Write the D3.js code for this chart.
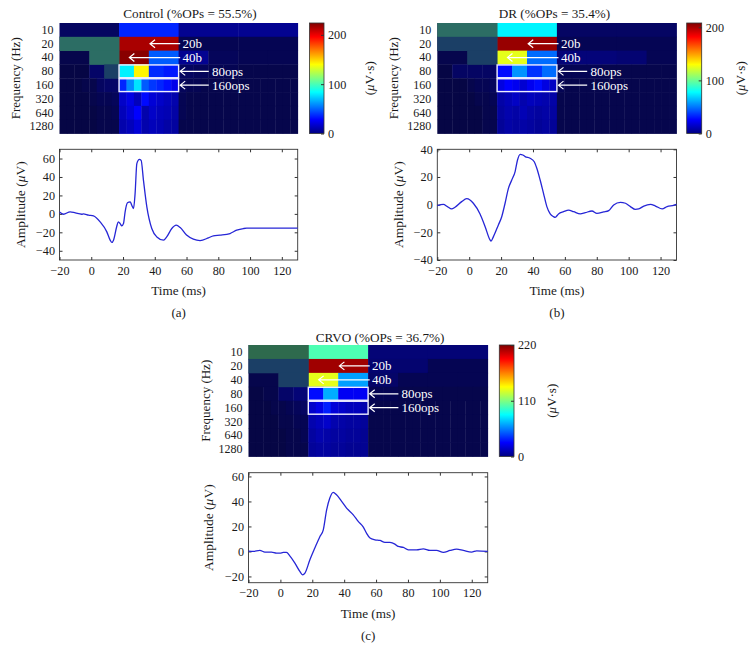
<!DOCTYPE html>
<html><head><meta charset="utf-8">
<script src="https://cdn.jsdelivr.net/npm/d3@7"></script>
<style>
body{margin:0;background:#fff;}
svg{display:block;}
text{font-family:"Liberation Serif","Times New Roman",serif;fill:#1a1a1a;}
</style></head>
<body>
<svg id="chart" width="756" height="664"></svg>
<script>
// ---------- data ----------
const freqLabels = ["10","20","40","80","160","320","640","1280"];
const timeDomain = [-20, 130];
const xTickValues = [-20,0,20,40,60,80,100,120];

// Control
const ctrlTitle = "Control (%OPs = 55.5%)";
const ctrlHeat = [
  [5, 36, 12, 12],
  [3, 215, 3, 3],
  [2, 3, 222, 48, 12, 4, 3, 3],
  [1, 1, 6, 4, 81, 142, 37, 33, 5, 4, 3, 3, 2, 2, 2, 2],
  [1,1,1,2,2,5,6,6, 36,58,78,48,40,36,31,25, 4,3,3,2,2,2,2,2, 2,2,2,2,2,2,2,2],
  [1,1,1,1,2,3,3,4, 20,24,18,30,22,20,18,16, 3,2,2,2,2,2,2,2, 2,2,2,2,2,2,2,2],
  [1,1,1,1,1,2,2,3, 18,22,28,16,20,18,17,15, 3,2,2,2,2,2,2,2, 2,2,2,2,2,2,2,2],
  [1,1,1,1,1,2,2,2, 16,18,22,16,18,17,15,14, 2,2,2,2,2,2,2,2, 2,2,2,2,2,2,2,2]
];
const ctrlMask = [[1,0,1],[2,1,1],[3,3,2]];
const ctrlColorMax = 224;
const ctrlColorTicks = [0,100,200];
const ctrlTime = [-20,-17.5,-13.3,-10,-6,-5,-1.7,1.4,5.6,9.8,11.9,13,14,16,17,18.2,19.2,20.3,21.3,22.8,24.5,25.5,26.6,27.6,28.7,30.3,31.4,32.9,35,38.1,41.3,45.5,47.5,50.7,53.5,56,60,64.3,68.5,73.8,76.9,81.1,87.4,91.6,95.8,97.9,110,130];
const ctrlAmp = [2,-0.4,2.2,1,-0.4,0,-1.4,-2.2,-8.7,-19.5,-28.5,-31,-28.5,-14,-8.7,-10.5,-13,-10.5,2,12,13,9.4,5.8,22,54.5,59,58,36,7.6,-15.9,-25,-28.5,-25,-15.9,-12.3,-14.8,-23,-27.4,-28.9,-26,-23.8,-23.1,-21.3,-17.7,-15.9,-15.5,-15.5,-15.5];
const ctrlAmpDomain = [-50, 70];
const ctrlAmpTicks = [-40,-20,0,20,40,60];

// DR
const drTitle = "DR (%OPs = 35.4%)";
const drHeat = [
  [0, 76, 5, 5],
  [0, 203, 3, 3],
  [2, 0, 125, 48, 8, 8, 7, 3],
  [1, 5, 5, 5, 28, 56, 36, 48, 3, 3, 3, 2, 2, 2, 2, 2],
  [1,1,1,1,2,3,3,4, 22,26,24,20,24,28,22,18, 3,2,2,2,2,2,2,2, 2,2,2,2,2,2,2,2],
  [1,1,1,1,1,2,2,3, 14,16,18,15,17,16,15,14, 2,2,2,2,2,2,2,2, 2,2,2,2,2,2,2,2],
  [1,1,1,1,1,1,2,2, 13,15,14,16,14,13,14,13, 2,2,2,2,2,2,2,2, 2,2,2,2,2,2,2,2],
  [1,1,1,1,1,1,2,2, 12,14,13,14,13,12,13,12, 2,2,2,2,2,2,2,2, 2,2,2,2,2,2,2,2]
];
const drMask = [[0,0,1],[1,0,2],[2,1,2]];
const drColorMax = 208;
const drColorTicks = [0,100,200];
const drTime = [-20,-16.2,-13.7,-11,-8.9,-4.7,-1.6,0.5,2.6,6.8,10,13.1,13.7,15.2,18.3,20.4,22.5,24.6,26.7,28.8,30.3,32,33.6,35.1,38.2,40.8,42.4,44.5,46.6,48.7,50.8,52.9,53.9,56,59.2,62.3,65.5,69.7,72.8,77,80.1,84.3,87.5,90.6,94.8,98,101.1,104.2,106.3,109.5,113.7,116.8,121,124.1,128.3,130];
const drAmp = [-0.7,0.2,-1.4,-3.1,-1.9,2.2,4.3,3.4,1,-6.7,-15.9,-25.5,-26.3,-23.1,-14.7,-8.7,1,11.8,17.8,23.9,32.3,36.4,35.9,34.7,33.5,31,26.3,17.8,8.2,-1.4,-6.7,-8.7,-9.2,-6.7,-5.1,-3.9,-5.1,-6.7,-5.8,-4.6,-6.3,-5.3,-4.3,-0.2,1.7,1,-1.4,-3.4,-3.1,-1,0.2,-1,-3.1,-1.4,-0.5,0.2];
const drAmpDomain = [-40, 40];
const drAmpTicks = [-40,-20,0,20,40];

// CRVO
const crvoTitle = "CRVO (%OPs = 36.7%)";
const crvoHeat = [
  [0, 99, 8, 8],
  [0, 213, 7, 3],
  [2, 0, 132, 62, 6, 3, 3, 3],
  [1, 2, 6, 8, 30, 65, 26, 26, 3, 3, 2, 2, 2, 2, 2, 2],
  [1,1,1,2,2,3,4,5, 20,24,34,22,20,18,18,16, 3,2,2,2,2,2,2,2, 2,2,2,2,2,2,2,2],
  [1,1,1,1,2,2,3,3, 16,18,20,16,15,14,14,13, 2,2,2,2,2,2,2,2, 2,2,2,2,2,2,2,2],
  [1,1,1,1,1,2,2,3, 14,16,15,14,14,13,13,12, 2,2,2,2,2,2,2,2, 2,2,2,2,2,2,2,2],
  [1,1,1,1,1,2,2,2, 13,14,14,13,13,12,12,12, 2,2,2,2,2,2,2,2, 2,2,2,2,2,2,2,2]
];
const crvoMask = [[0,0,3],[1,0,2],[2,1,2]];
const crvoColorMax = 220;
const crvoColorTicks = [0,110,220];
const crvoTime = [-20,-17.1,-12.9,-9.7,-5.6,-2.4,-0.3,1.8,3.8,5.9,9.1,12.2,13.9,15.4,18.5,21.6,24.8,26.9,29,31,33.1,35.2,38.4,41.5,45.7,48.8,52,54,56.2,59.3,62.4,65.6,68.7,71.8,73.9,77.1,80.2,85.4,89.6,93.8,97.9,102.2,106.4,110.5,114.7,119.9,123.1,130];
const crvoAmp = [0.3,0,0.8,-0.5,-0.5,-1.3,-1.3,-0.8,-0.8,-3.5,-9.3,-16,-18.7,-17.3,-6.7,2.7,12,17.3,33.3,42.7,47.2,45.3,40,34.7,29.3,24,19.5,14.7,10.7,9.3,8.8,7.2,7.2,5.9,4,3.2,1.3,1.3,2.1,0.8,0.8,-0.8,0.8,1.9,0.8,-0.5,0.5,0];
const crvoAmpDomain = [-25, 63];
const crvoAmpTicks = [-20,0,20,40,60];

// annotations (time in ms, row index)
const annotations = [
  {label:"20b", row:1, tip:37, tail:56, text:57.5},
  {label:"40b", row:2, tip:24, tail:56, text:57.5},
  {label:"80ops", row:3, tip:56, tail:74, text:76},
  {label:"160ops", row:4, tip:56, tail:74, text:76}
];
const boxRows = [3, 4];
const boxWindow = [17.5, 55];
const maskColors = {1:"#2c6d64", 2:"#1b3f66", 3:"#2e6a4d"};

// ---------- drawing ----------
const svg = d3.select("#chart");

function jetScale(max, low){
  return d3.scaleLinear()
    .domain([0, .125, .375, .625, .875, 1].map(f => f*max))
    .range([low, "#0000ff", "#00ffff", "#ffff00", "#ff0000", "#800000"])
    .clamp(true);
}

function muText(sel, before, after){
  sel.append("tspan").text(before);
  sel.append("tspan").style("font-style","italic").text("\u03bc");
  sel.append("tspan").text(after);
}

function styleAxisText(a, size){
  a.selectAll("text").style("font-family","Liberation Serif").style("font-size", size).attr("fill","#1a1a1a");
}

function drawPanel(p){
  const g = svg.append("g");
  const x = d3.scaleLinear().domain(timeDomain).range([p.hx0, p.hx1]);
  const yb = d3.scaleBand().domain(freqLabels).range([p.hy0, p.hy1]);
  const col = jetScale(p.colorMax, "#06063e");
  const cellX = (k, n) => x(timeDomain[0] + (timeDomain[1]-timeDomain[0])*k/n);

  // heatmap cells
  p.heat.forEach((row, ri) => {
    const n = row.length;
    g.append("g").selectAll("rect").data(row).join("rect")
      .attr("x", (d,k) => cellX(k, n))
      .attr("width", (d,k) => cellX(k+1, n) - cellX(k, n) + 0.4)
      .attr("y", yb(freqLabels[ri]))
      .attr("height", yb.bandwidth() + 0.4)
      .attr("fill", d => col(d));
  });
  // masked (shaded) cells
  g.append("g").selectAll("rect").data(p.mask).join("rect")
    .attr("x", d => cellX(d[1], p.heat[d[0]].length))
    .attr("width", d => cellX(d[1]+1, p.heat[d[0]].length) - cellX(d[1], p.heat[d[0]].length) + 0.4)
    .attr("y", d => yb(freqLabels[d[0]]))
    .attr("height", yb.bandwidth() + 0.4)
    .attr("fill", d => maskColors[d[2]]);

  // white boxes
  g.append("g").selectAll("rect").data(boxRows).join("rect")
    .attr("x", x(boxWindow[0])).attr("width", x(boxWindow[1]) - x(boxWindow[0]))
    .attr("y", d => yb(freqLabels[d]) + 0.5).attr("height", yb.bandwidth() - 1)
    .attr("fill","none").attr("stroke","#eeeeff").attr("stroke-width",1.4);

  // arrows + labels
  const ann = g.append("g");
  annotations.forEach(a => {
    const yy = yb(freqLabels[a.row]) + yb.bandwidth()/2;
    const xt = x(a.tip);
    ann.append("path")
      .attr("d", `M${x(a.tail)},${yy}L${xt},${yy}M${xt+5},${yy-4}L${xt},${yy}L${xt+5},${yy+4}`)
      .attr("fill","none").attr("stroke","#ffffff").attr("stroke-width",1.2);
    ann.append("text").attr("x", x(a.text)).attr("y", yy).attr("dy","0.35em")
      .style("font-size","13px").style("fill","#ffffff").text(a.label);
  });

  // heatmap y axis labels
  const ya = g.append("g").attr("transform", `translate(${p.hx0},0)`)
    .call(d3.axisLeft(yb).tickSize(0).tickPadding(6));
  ya.select(".domain").remove();
  styleAxisText(ya, "12px");

  g.append("text").attr("transform", `translate(${p.freqLabelX},${(p.hy0+p.hy1)/2}) rotate(-90)`)
    .attr("text-anchor","middle").attr("dy","0.35em").style("font-size","13px").text("Frequency (Hz)");

  // title
  g.append("text").attr("x", p.titleX).attr("y", p.titleY).attr("text-anchor","middle")
    .style("font-size","13.2px").text(p.title);

  // colorbar
  const cbScale = d3.scaleLinear().domain([0, p.colorMax]).range([p.hy1, p.hy0]);
  const cbCol = jetScale(p.colorMax, "#000080");
  const gradId = "grad" + p.id;
  const grad = svg.append("defs").append("linearGradient").attr("id", gradId)
    .attr("x1","0").attr("y1","1").attr("x2","0").attr("y2","0");
  d3.range(0, 1.0001, 0.025).forEach(f => {
    grad.append("stop").attr("offset", f).attr("stop-color", cbCol(f*p.colorMax));
  });
  g.append("rect").attr("x", p.cbx).attr("y", p.hy0).attr("width", p.cbw).attr("height", p.hy1 - p.hy0)
    .attr("fill", `url(#${gradId})`).attr("stroke","#333").attr("stroke-width",0.8);
  const cba = g.append("g").attr("transform", `translate(${p.cbx + p.cbw},0)`)
    .call(d3.axisRight(cbScale).tickValues(p.colorTicks).tickSizeInner(-3).tickSizeOuter(0).tickPadding(4));
  cba.select(".domain").remove();
  cba.selectAll("line").attr("stroke","#333");
  styleAxisText(cba, "12.2px");
  const cbl = g.append("text").attr("transform", `translate(${p.cbLabelX},${(p.hy0+p.hy1)/2}) rotate(-90)`)
    .attr("text-anchor","middle").attr("dy","0.35em").style("font-size","13px");
  muText(cbl, "(", "V\u00b7s)");

  // line chart
  const y = d3.scaleLinear().domain(p.ampDomain).range([p.ly1, p.ly0]);
  const lx = d3.scaleLinear().domain(timeDomain).range([p.hx0, p.hx1]);
  const lg = g.append("g");
  const bottom = lg.append("g").attr("transform", `translate(0,${p.ly1})`)
    .call(d3.axisBottom(lx).tickValues(xTickValues).tickSizeInner(-3).tickSizeOuter(0).tickPadding(6));
  const top = lg.append("g").attr("transform", `translate(0,${p.ly0})`)
    .call(d3.axisTop(lx).tickValues(xTickValues).tickSizeInner(-3).tickSizeOuter(0).tickFormat(""));
  const left = lg.append("g").attr("transform", `translate(${p.hx0},0)`)
    .call(d3.axisLeft(y).tickValues(p.ampTicks).tickSizeInner(-3).tickSizeOuter(0).tickPadding(4.5));
  const right = lg.append("g").attr("transform", `translate(${p.hx1},0)`)
    .call(d3.axisRight(y).tickValues(p.ampTicks).tickSizeInner(-3).tickSizeOuter(0).tickFormat(""));
  [bottom, top, left, right].forEach(a => {
    a.select(".domain").remove();
    a.selectAll("line").attr("stroke","#333");
    styleAxisText(a, "12.2px");
  });
  lg.append("rect").attr("x", p.hx0).attr("y", p.ly0).attr("width", p.hx1 - p.hx0).attr("height", p.ly1 - p.ly0)
    .attr("fill","none").attr("stroke","#333").attr("stroke-width",0.9);

  const pts = p.time.map((t,i) => [t, p.amp[i]]);
  lg.append("path").datum(pts)
    .attr("d", d3.line().x(d => lx(d[0])).y(d => y(d[1])).curve(d3.curveMonotoneX))
    .attr("fill","none").attr("stroke","#2626d6").attr("stroke-width",1.3);

  const al = lg.append("text").attr("transform", `translate(${p.ampLabelX},${(p.ly0+p.ly1)/2}) rotate(-90)`)
    .attr("text-anchor","middle").attr("dy","0.35em").style("font-size","13.5px");
  muText(al, "Amplitude (", "V)");

  lg.append("text").attr("x", (p.hx0+p.hx1)/2).attr("y", p.ly1 + 35).attr("text-anchor","middle")
    .style("font-size","13.2px").text("Time (ms)");
  lg.append("text").attr("x", (p.hx0+p.hx1)/2).attr("y", p.ly1 + 57).attr("text-anchor","middle")
    .style("font-size","13px").text(p.panelLabel);
}

drawPanel({id:"a", title:ctrlTitle, heat:ctrlHeat, mask:ctrlMask, colorMax:ctrlColorMax, colorTicks:ctrlColorTicks,
  time:ctrlTime, amp:ctrlAmp, ampDomain:ctrlAmpDomain, ampTicks:ctrlAmpTicks, panelLabel:"(a)",
  hx0:59.5, hx1:297.7, hy0:23, hy1:133.5, ly0:149.3, ly1:260,
  cbx:309.5, cbw:14.5, cbLabelX:369, freqLabelX:15, ampLabelX:20, titleX:190, titleY:18});

drawPanel({id:"b", title:drTitle, heat:drHeat, mask:drMask, colorMax:drColorMax, colorTicks:drColorTicks,
  time:drTime, amp:drAmp, ampDomain:drAmpDomain, ampTicks:drAmpTicks, panelLabel:"(b)",
  hx0:437.3, hx1:676.5, hy0:23, hy1:133.5, ly0:149.3, ly1:260,
  cbx:686.7, cbw:15, cbLabelX:740, freqLabelX:393, ampLabelX:398, titleX:554.5, titleY:18});

drawPanel({id:"c", title:crvoTitle, heat:crvoHeat, mask:crvoMask, colorMax:crvoColorMax, colorTicks:crvoColorTicks,
  time:crvoTime, amp:crvoAmp, ampDomain:crvoAmpDomain, ampTicks:crvoAmpTicks, panelLabel:"(c)",
  hx0:248.5, hx1:487.7, hy0:345, hy1:456.5, ly0:472.7, ly1:582.7,
  cbx:499.3, cbw:14.7, cbLabelX:551.5, freqLabelX:205, ampLabelX:208, titleX:380, titleY:342});
</script>
</body></html>
